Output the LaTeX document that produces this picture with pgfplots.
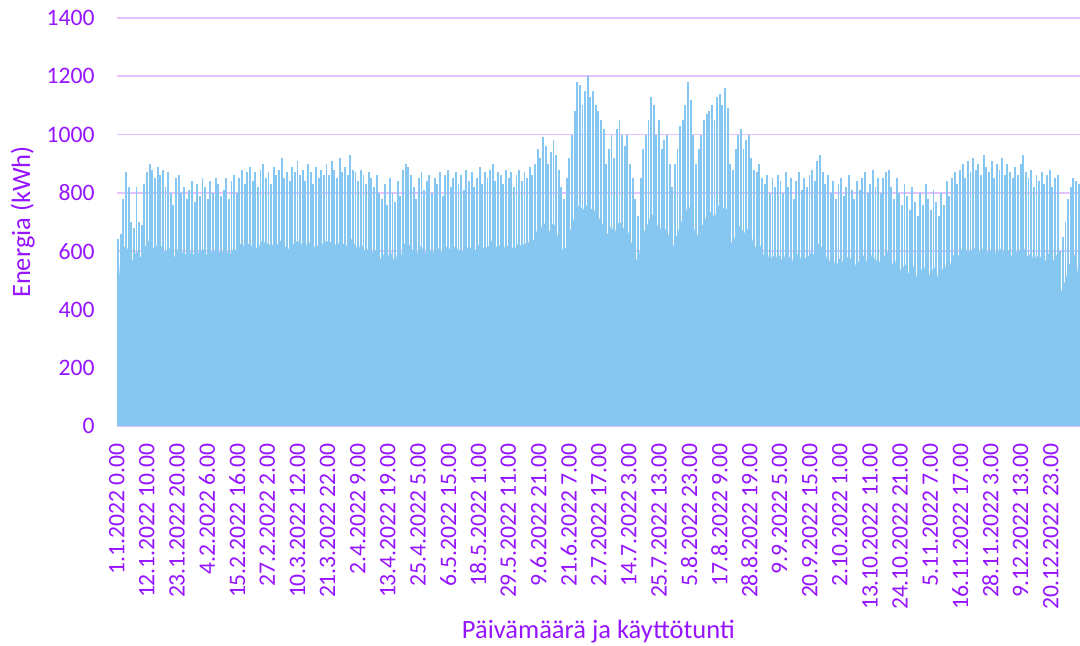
\documentclass[border=0pt]{standalone}
\usepackage{pgfplots}
\pgfplotsset{compat=1.18}
\usepackage{pgfplotstable}
\usepackage{fontspec}
\setmainfont{Carlito}
\definecolor{txtC}{RGB}{150,20,255}
\definecolor{gridC}{RGB}{228,194,255}
\definecolor{fillC}{RGB}{133,199,240}
% daily night level (lo) and daily peak (hi), 1.1.2022 ... 31.12.2022
\pgfplotstableread[row sep=\\]{lo hi\\
450 640\\600 660\\610 780\\620 870\\600 820\\560 700\\580 680\\600 820\\590 700\\570 690\\
610 830\\630 870\\640 900\\620 880\\600 850\\630 890\\620 860\\610 880\\590 820\\620 870\\
600 800\\570 760\\600 850\\610 860\\590 800\\600 820\\580 780\\590 810\\600 840\\580 770\\
600 830\\590 790\\610 850\\600 820\\580 780\\600 840\\590 800\\610 850\\600 830\\590 790\\
600 810\\610 850\\580 780\\600 840\\610 860\\600 800\\620 850\\630 880\\610 830\\620 870\\
630 890\\610 840\\620 870\\600 820\\630 880\\640 900\\620 850\\630 870\\610 830\\630 890\\
620 860\\630 880\\640 920\\610 850\\620 870\\600 840\\630 890\\620 870\\640 910\\620 860\\
630 880\\610 840\\640 900\\620 870\\600 830\\630 890\\610 850\\630 880\\620 860\\640 900\\
620 860\\640 910\\630 880\\610 850\\640 920\\620 870\\630 890\\610 860\\650 930\\630 880\\
620 870\\600 840\\630 880\\610 860\\590 830\\620 870\\600 850\\590 820\\610 860\\580 800\\
570 780\\600 830\\560 760\\610 850\\580 800\\560 770\\600 840\\570 790\\620 880\\630 900\\
630 890\\610 860\\600 820\\580 780\\610 850\\620 870\\590 810\\600 840\\610 860\\590 800\\
600 850\\600 830\\620 870\\580 790\\610 860\\620 880\\600 820\\610 850\\620 870\\600 830\\
610 860\\590 810\\620 880\\600 840\\620 870\\600 820\\610 850\\630 890\\600 830\\620 870\\
610 850\\630 880\\640 900\\610 840\\620 870\\620 860\\600 830\\630 880\\610 850\\620 870\\
600 820\\620 860\\630 880\\610 840\\630 870\\620 850\\640 890\\630 860\\650 900\\680 950\\
670 920\\700 990\\690 960\\660 900\\680 940\\700 980\\670 930\\640 880\\610 820\\600 780\\
620 850\\660 920\\690 1000\\720 1080\\750 1180\\760 1170\\740 1100\\750 1150\\760 1200\\740 1130\\
750 1150\\730 1100\\720 1080\\700 1050\\690 1020\\650 900\\670 950\\690 1000\\650 920\\690 1020\\
700 1050\\690 1000\\670 960\\680 1000\\640 900\\620 850\\580 780\\560 720\\620 850\\660 950\\
680 1000\\700 1050\\730 1130\\720 1100\\680 1000\\700 1050\\660 950\\670 980\\680 1000\\640 900\\
600 820\\640 900\\660 950\\690 1030\\710 1050\\730 1100\\760 1180\\740 1120\\690 1000\\650 900\\
660 950\\680 1000\\700 1050\\720 1070\\730 1080\\740 1100\\710 1050\\750 1130\\760 1140\\740 1100\\
760 1160\\730 1090\\640 900\\620 880\\660 950\\680 1000\\690 1020\\660 950\\670 980\\680 1000\\
650 920\\620 880\\610 870\\630 900\\600 850\\580 830\\600 860\\560 800\\590 850\\570 820\\
590 860\\580 840\\560 800\\600 870\\570 820\\590 850\\550 780\\580 840\\600 870\\560 810\\
580 850\\570 820\\590 860\\600 880\\580 840\\620 910\\630 930\\600 870\\570 830\\590 860\\
550 800\\580 840\\540 780\\570 830\\580 850\\550 790\\570 820\\590 860\\560 810\\540 780\\
570 840\\560 810\\580 850\\590 870\\550 800\\570 830\\600 880\\560 820\\580 850\\550 800\\
580 850\\590 870\\600 880\\570 820\\540 780\\580 850\\550 800\\520 760\\560 830\\540 790\\
510 740\\560 820\\530 770\\500 720\\550 800\\520 760\\560 830\\530 780\\510 740\\550 810\\
530 770\\500 720\\550 800\\520 760\\570 840\\540 790\\580 850\\590 870\\570 830\\600 880\\
610 900\\580 850\\620 910\\590 870\\620 920\\600 880\\610 900\\580 860\\630 930\\600 890\\
590 870\\610 910\\580 850\\610 900\\600 880\\620 920\\580 860\\610 900\\590 870\\580 850\\
600 890\\590 860\\610 900\\620 930\\590 870\\580 850\\600 880\\560 820\\590 860\\570 840\\
590 870\\560 830\\580 860\\600 880\\560 820\\580 850\\590 860\\450 600\\480 650\\500 700\\
540 780\\570 820\\590 850\\580 840\\500 830\\
}\energy
\begin{document}
\begin{tikzpicture}
\path[use as bounding box] (0,0) rectangle (1080bp,646bp);
\begin{axis}[
  at={(116.7bp,220bp)}, anchor=south west,
  width=963.3bp, height=408bp, scale only axis,
  xmin=0, xmax=8760, ymin=0, ymax=1400,
  ytick={0,200,...,1400},
  xtick={0,274,...,8494},
  xticklabels={1.1.2022 0.00, 12.1.2022 10.00, 23.1.2022 20.00, 4.2.2022 6.00, 15.2.2022 16.00, 27.2.2022 2.00, 10.3.2022 12.00, 21.3.2022 22.00, 2.4.2022 9.00, 13.4.2022 19.00, 25.4.2022 5.00, 6.5.2022 15.00, 18.5.2022 1.00, 29.5.2022 11.00, 9.6.2022 21.00, 21.6.2022 7.00, 2.7.2022 17.00, 14.7.2022 3.00, 25.7.2022 13.00, 5.8.2022 23.00, 17.8.2022 9.00, 28.8.2022 19.00, 9.9.2022 5.00, 20.9.2022 15.00, 2.10.2022 1.00, 13.10.2022 11.00, 24.10.2022 21.00, 5.11.2022 7.00, 16.11.2022 17.00, 28.11.2022 3.00, 9.12.2022 13.00, 20.12.2022 23.00},
  axis line style={draw=none},
  major tick length=0pt,
  ymajorgrids, grid style={gridC, line width=1.8bp},
  tick label style={font=\fontsize{23.6bp}{28bp}\selectfont, text=txtC, inner sep=0pt},
  yticklabel style={anchor=east, xshift=-22bp},
  xticklabel style={yshift=-17bp, rotate=90, anchor=east},
  /pgf/number format/assume math mode=true,
  /pgf/number format/1000 sep={},
  xlabel={Päivämäärä ja käyttötunti},
  ylabel={Energia (kWh)},
  label style={font=\fontsize{26.5bp}{32bp}\selectfont, text=txtC, inner sep=0pt},
  xlabel style={at={(axis description cs:0.5,-0.5196)}, anchor=base},
  ylabel style={at={(axis description cs:-0.0900,0.5)}, anchor=base},
]
\addplot[draw=none, fill=fillC] table[x expr=\coordindex*24+12, y=lo] {\energy} \closedcycle;
\addplot[ycomb, color=fillC, line width=1.9bp, mark=none] table[x expr=\coordindex*24+12, y=hi] {\energy};
\end{axis}
\end{tikzpicture}
\end{document}
